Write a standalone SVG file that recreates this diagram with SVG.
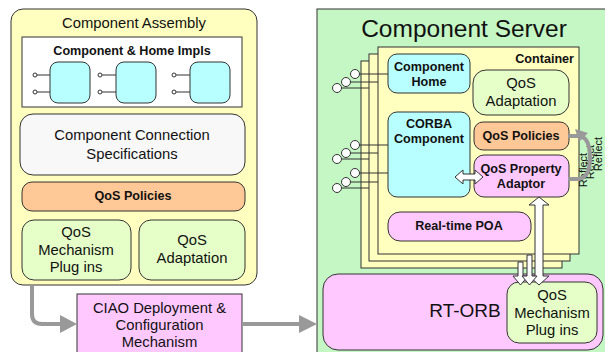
<svg xmlns="http://www.w3.org/2000/svg" width="605" height="352" viewBox="0 0 605 352">
<style>
text{font-family:"Liberation Sans",Arial,sans-serif;fill:#111;text-anchor:middle}
.r{font-size:14.8px}
.b{font-size:12.6px;font-weight:bold}
.k{stroke:#333;stroke-width:1}
.yel{fill:#ffffc0}
.cy{fill:#b8ffff}
.gr{fill:#e6ffc8}
.or{fill:#ffc896}
.pk{fill:#ffc8ff}
.sock{fill:#fff;stroke:#333;stroke-width:1}
.wire{stroke:#333;stroke-width:1;fill:none}
.flow{stroke:#999;stroke-width:4;fill:none}
.head{fill:#999}
.hollow{fill:#fff;stroke:#333;stroke-width:1}
</style>
<rect width="605" height="352" fill="#fff"/>

<g id="component-assembly">
<rect class="k yel" x="11" y="9" width="246" height="276" rx="12"/>
<text class="r" x="134" y="28">Component Assembly</text>
</g>
<g id="impls">
<rect class="k" fill="#fff" x="22" y="37" width="220" height="70"/>
<text class="b" x="132" y="54.5">Component &amp; Home Impls</text>
<g class="wire">
<path d="M37 75H50M37 92H50M102 75H116M102 92H116M176 75H190M176 92H190"/>
</g>
<circle class="sock" cx="35" cy="75" r="2"/><circle class="sock" cx="35" cy="92" r="2"/>
<circle class="sock" cx="100" cy="75" r="2"/><circle class="sock" cx="100" cy="92" r="2"/>
<circle class="sock" cx="174" cy="75" r="2"/><circle class="sock" cx="174" cy="92" r="2"/>
<rect class="k cy" x="50" y="62" width="40" height="41" rx="8"/>
<rect class="k cy" x="116" y="62" width="40" height="41" rx="8"/>
<rect class="k cy" x="190" y="62" width="40" height="41" rx="8"/>
</g>
<g id="conn-spec">
<rect class="k" fill="#f8f8f8" x="20" y="114" width="225" height="61" rx="13"/>
<text class="r" x="132" y="140">Component Connection</text>
<text class="r" x="132" y="158.5">Specifications</text>
</g>
<g id="qos-policies-left">
<rect class="k or" x="22" y="182" width="223" height="29" rx="10"/>
<text class="b" x="133" y="200">QoS Policies</text>
</g>
<g id="qos-mech-left">
<rect class="k gr" x="22" y="220" width="109" height="60" rx="12"/>
<text class="r" x="76" y="237">QoS</text>
<text class="r" x="76" y="254.5">Mechanism</text>
<text class="r" x="76" y="272">Plug ins</text>
</g>
<g id="qos-adapt-left">
<rect class="k gr" x="139" y="220" width="106" height="60" rx="12"/>
<text class="r" x="192" y="245">QoS</text>
<text class="r" x="192" y="263">Adaptation</text>
</g>
<g id="ciao">
<rect class="k pk" x="77" y="294" width="165" height="70"/>
<text class="r" x="159.5" y="312.5">CIAO Deployment &amp;</text>
<text class="r" x="159.5" y="329.5">Configuration</text>
<text class="r" x="159.5" y="346.5">Mechanism</text>
</g>

<g id="component-server">
<rect class="k" fill="#c4f7c4" x="317" y="9" width="300" height="360"/>
<text x="464" y="37" style="font-size:24.5px">Component Server</text>
</g>

<g id="container">
<rect class="k yel" x="361" y="61" width="201" height="207"/>
<rect class="k yel" x="369" y="54" width="201" height="207"/>
<rect class="k yel" x="378" y="47" width="201" height="207"/>
<text class="b" x="574" y="62.5" style="text-anchor:end">Container</text>
</g>

<g id="sockets">
<path class="wire" d="M355 74H388M346 82H378M337 88H369M355 145H388M346 153H378M337 159H369M355 173H388M346 182H378M337 188H369"/>
<circle class="sock" cx="355" cy="74" r="4.5"/><circle class="sock" cx="346" cy="82" r="4.5"/><circle class="sock" cx="337" cy="88" r="4.5"/>
<circle class="sock" cx="355" cy="145" r="4.5"/><circle class="sock" cx="346" cy="153" r="4.5"/><circle class="sock" cx="337" cy="159" r="4.5"/>
<circle class="sock" cx="355" cy="173" r="4.5"/><circle class="sock" cx="346" cy="182" r="4.5"/><circle class="sock" cx="337" cy="188" r="4.5"/>
</g>

<g id="component-home">
<rect class="k cy" x="388" y="54" width="82" height="39" rx="9"/>
<text class="b" x="429" y="70.5">Component</text>
<text class="b" x="429" y="85.5">Home</text>
</g>
<g id="qos-adapt-right">
<rect class="k gr" x="473" y="70" width="96" height="45" rx="13"/>
<text class="r" x="521" y="87.5">QoS</text>
<text class="r" x="521" y="106">Adaptation</text>
</g>
<g id="corba-component">
<rect class="k cy" x="388" y="112" width="82" height="85" rx="9"/>
<text class="b" x="429" y="127.5">CORBA</text>
<text class="b" x="429" y="142.5">Component</text>
</g>
<g id="qos-policies-right">
<rect class="k or" x="474" y="122" width="95" height="28" rx="9"/>
<text class="b" x="521" y="139.5">QoS Policies</text>
</g>
<g id="qos-property-adaptor">
<rect class="k pk" x="474" y="155" width="95" height="42" rx="10"/>
<text class="b" x="521" y="172.5">QoS Property</text>
<text class="b" x="521" y="187.5">Adaptor</text>
</g>
<g id="realtime-poa">
<rect class="k pk" x="388" y="212" width="143" height="29" rx="12"/>
<text class="b" x="459" y="229.5">Real-time POA</text>
</g>

<g id="rt-orb">
<rect class="k pk" x="323" y="274" width="280" height="76" rx="15"/>
<text x="465" y="317" style="font-size:19px">RT-ORB</text>
</g>
<g id="qos-mech-right">
<rect class="k gr" x="507" y="282" width="90" height="61" rx="12"/>
<text class="r" x="552" y="300">QoS</text>
<text class="r" x="552" y="318">Mechanism</text>
<text class="r" x="552" y="335">Plug ins</text>
</g>

<g id="reflect-labels" style="font-size:11px">
<text x="0" y="0" transform="translate(587 170) rotate(-90)">Reflect</text>
<text x="0" y="0" transform="translate(594 162) rotate(-90)">Reflect</text>
<text x="0" y="0" transform="translate(602 154) rotate(-90)">Reflect</text>
</g>

<g id="connectors">
<path class="flow" d="M32 285V314Q32 324 42 324H62"/>
<polygon class="head" points="60,315 77,324 60,333"/>
<path class="flow" d="M242 324H300"/>
<polygon class="head" points="299,315 317,324 299,333"/>
<path class="flow" d="M568 179H577Q590 179 590 158Q590 136 578 136H568"/>
<polygon class="head" points="575,129 588,133 579,142"/>
<polygon class="hollow" points="455,177 463,170 463,174 475,174 475,170 483,177 475,184 475,180 463,180 463,184"/>
<polygon class="hollow" points="539,197 549,205 543,205 543,276 549,276 539,285 529,276 535,276 535,205 529,205"/>
<polygon class="hollow" points="518,262 523,262 523,276 528,276 520.5,285 513,276 518,276"/>
<polygon class="hollow" points="527,255 532,255 532,276 537,276 529.5,285 522,276 527,276"/>
</g>
</svg>
